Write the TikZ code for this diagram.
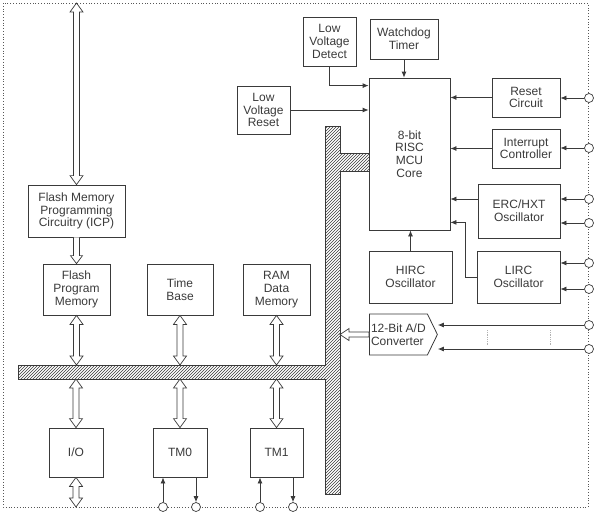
\documentclass[tikz,border=0pt]{standalone}
\usepackage{fontspec}
\setmainfont{Liberation Sans}
\usetikzlibrary{arrows.meta,patterns,shapes.symbols,calc}
\definecolor{ink}{HTML}{3A3A3A}

\tikzset{
blk/.style={draw=ink, line width=0.8pt, text=ink, align=center, inner sep=1pt, font=\fontsize{12}{12.8}\selectfont},
pad/.style={circle, draw=ink, fill=white, line width=0.7pt, minimum size=9pt, inner sep=0pt},
sig/.style={draw=ink, line width=0.8pt, -{Latex[length=6pt,width=5pt]}},
bus/.style={draw=ink, line width=0.8pt, pattern=north east lines, pattern color=ink},
% hollow bus arrows, top to bottom
dbl/.style={draw=ink, line width=0.7pt, fill=white, to path={let \p1=(\tikztostart), \p2=(\tikztotarget) in
 (\x1,\y1) -- (\x1-6.5pt,\y1-9pt) -- (\x1-3pt,\y1-9pt) -- (\x1-3pt,\y2+9pt) -- (\x1-6.5pt,\y2+9pt) -- (\x1,\y2)
 -- (\x1+6.5pt,\y2+9pt) -- (\x1+3pt,\y2+9pt) -- (\x1+3pt,\y1-9pt) -- (\x1+6.5pt,\y1-9pt) -- cycle}},
% one head, pointing down
dn/.style={draw=ink, line width=0.7pt, fill=white, to path={let \p1=(\tikztostart), \p2=(\tikztotarget) in
 (\x1-3pt,\y1) -- (\x1-3pt,\y2+8pt) -- (\x1-6pt,\y2+8pt) -- (\x1,\y2) -- (\x1+6pt,\y2+8pt) -- (\x1+3pt,\y2+8pt) -- (\x1+3pt,\y1)}},
% hollow arrow into the bus, right to left
bin/.style={draw=ink, line width=0.7pt, fill=white, to path={let \p1=(\tikztostart), \p2=(\tikztotarget) in
 (\x1,\y1+2.5pt) -- (\x2+9pt,\y1+2.5pt) -- (\x2+9pt,\y1+6pt) -- (\x2,\y1) -- (\x2+9pt,\y1-6pt) -- (\x2+9pt,\y1-2.5pt) -- (\x1,\y1-2.5pt) -- cycle}}
}

\begin{document}
\begin{tikzpicture}[x=1pt,y=-1pt]
\useasboundingbox (0,0) rectangle (600,520);
%\draw [help lines, step=20] (0,0) grid (600,520);

% frame
\coordinate (F0) at (3,3);
\coordinate (F1) at (588,507);
\draw[ink!85, dotted, line width=0.8pt] (F0) rectangle (F1);

% bus
\coordinate (H0) at (0,365);
\coordinate (H1) at (0,379);
\coordinate (H2) at (340,0);
\draw[bus] (18,365) -- (325,365) -- (325,126) -- (340,126) -- (340,153) -- (369,153) -- (369,171)
 -- (340,171) -- (340,494) -- (325,494) -- (325,379) -- (18,379) -- cycle;

\node[blk, minimum width=97, minimum height=52] (B0) at (76.5,211) {Flash Memory\\Programming\\Circuitry (ICP)};
\node[blk, minimum width=53, minimum height=48] (B1) at (263.5,110) {Low\\Voltage\\Reset};
\node[blk, minimum width=53, minimum height=49] (B2) at (329.5,41.5) {Low\\Voltage\\Detect};
\node[blk, minimum width=68, minimum height=40] (B3) at (404,39) {Watchdog\\Timer};
\node[blk, minimum width=81, minimum height=152, fill=white] (B4) at (409.5,154) {8-bit\\RISC\\MCU\\Core};
\node[blk, minimum width=68, minimum height=39] (B5) at (526,97.5) {Reset\\Circuit};
\node[blk, minimum width=68, minimum height=39] (B6) at (526,148.5) {Interrupt\\Controller};
\node[blk, minimum width=82, minimum height=54] (B7) at (519,211) {ERC/HXT\\Oscillator};
\node[blk, minimum width=83, minimum height=52] (B8) at (410.5,277) {HIRC\\Oscillator};
\node[blk, minimum width=83, minimum height=52] (B9) at (518.5,277) {LIRC\\Oscillator};
\node[blk, shape=signal, signal to=east, signal pointer angle=128, minimum width=68, minimum height=41,
 align=left, anchor=west] (B10) at (369,334.5) {12-Bit A/D\\Converter};

\node[blk, minimum width=67, minimum height=51] (B11) at (76.5,289.5) {Flash\\Program\\Memory};
\node[blk, minimum width=66, minimum height=51] (B12) at (180,289.5) {Time\\Base};
\node[blk, minimum width=67, minimum height=51] (B13) at (276.5,289.5) {RAM\\Data\\Memory};
\node[blk, minimum width=54, minimum height=49] (B14) at (76,452.5) {I/O};
\node[blk, minimum width=54, minimum height=49] (B15) at (180,452.5) {TM0};
\node[blk, minimum width=53, minimum height=49] (B16) at (276.5,452.5) {TM1};

% pins
\node[pad] (C0) at (589,98) {};
\node[pad] (C1) at (589,148) {};
\node[pad] (C2) at (589,199) {};
\node[pad] (C3) at (589,223) {};
\node[pad] (C4) at (589,263) {};
\node[pad] (C5) at (589,289) {};
\node[pad] (C6) at (589,325) {};
\node[pad] (C7) at (589,349) {};
\node[pad] (C8) at (163,507) {};
\node[pad] (C9) at (196,507) {};
\node[pad] (C10) at (260,507) {};
\node[pad] (C11) at (293,507) {};

% into the core
\draw[sig] (B2.south) |- ([yshift=-8pt]B4.north west);
\draw[sig] (B1.east) -- (B1.east -| B4.west);
\draw[sig] (B3.south) -- (B3.south |- B4.north);
\draw[sig] (B8.north) -- (B8.north |- B4.south);
\draw[sig] (B5.west) -- (B5.west -| B4.east);
\draw[sig] (B6.west) -- (B6.west -| B4.east);
\draw[sig] (B7.west |- C2) -- (C2 -| B4.east);
\draw[sig] (B9.west) -- ++(-11,0) |- ([yshift=8pt]B4.south east);

% pins to blocks
\draw[sig] (C0) -- (C0 -| B5.east);
\draw[sig] (C1) -- (C1 -| B6.east);
\draw[sig] (C2) -- (C2 -| B7.east);
\draw[sig] (C3) -- (C3 -| B7.east);
\draw[sig] (C4) -- (C4 -| B9.east);
\draw[sig] (C5) -- (C5 -| B9.east);
\draw[sig] (C6) -- (C6 -| B10.east);
\draw[sig] (C7) -- (C7 -| B10.east);
\draw[gray!60, densely dotted, line width=0.8pt] (487,330) -- (487,345) (550,330) -- (550,345);

% timers
\draw[sig] (C8) -- (C8 |- B15.south);
\draw[sig] (C9 |- B15.south) -- (C9);
\draw[sig] (C10) -- (C10 |- B16.south);
\draw[sig] (C11 |- B16.south) -- (C11);

% bus arrows
\draw[dbl] (B0.north |- F0) to (B0.north);
\draw[dn] (B0.south) to (B11.north);
\draw[dbl] (B11.south) to (B11.south |- H0);
\draw[dbl] (B12.south) to (B12.south |- H0);
\draw[dbl] (B13.south) to (B13.south |- H0);
\draw[dbl] (B14.north |- H1) to (B14.north);
\draw[dbl] (B15.north |- H1) to (B15.north);
\draw[dbl] (B16.north |- H1) to (B16.north);
\draw[dbl] (B14.south) to (B14.south |- F1);
\draw[bin] (B10.west) to (B10.west -| H2);

\end{tikzpicture}
\end{document}
